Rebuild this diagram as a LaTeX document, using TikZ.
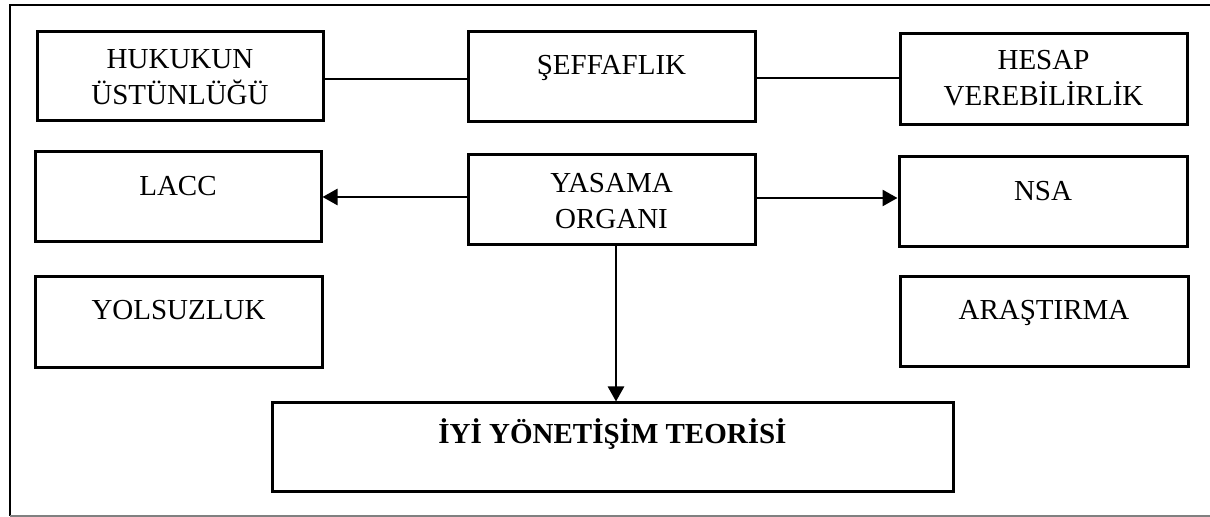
\documentclass[tikz,border=0pt]{standalone}
\usepackage{fontspec}
\setmainfont{Liberation Serif}
\usetikzlibrary{arrows.meta}
\tikzset{
	box/.style 2 args={draw,line width=1.5pt,minimum width=#1,minimum height=#2,inner sep=0pt},
	txt/.style={align=center,anchor=base,inner sep=0pt,font=\fontsize{14.5}{18}\selectfont},
	link/.style={line width=1.3pt},
	arr/.style={line width=1.3pt,-{Triangle[length=7.5pt,width=8pt]}}
}
\begin{document}
\begin{tikzpicture}[x=0.5pt,y=-0.5pt]
					\useasboundingbox (0,0) rectangle (1210,517);
					\draw [line width=1.1pt] (1210,5) -- (10,5) -- (10,516);
					\draw [line width=0.6pt,gray] (10,516) -- (1210,516);

					\node [box={143pt}{44.5pt}] (hukuk) at (180,76.5) {};
					\node [box={143.5pt}{45pt}] (seffaf) at (611.5,77) {};
					\node [box={143.5pt}{45.5pt}] (hesap) at (1043.5,79.5) {};
					\node [box={143pt}{45pt}] (lacc) at (178,197) {};
					\node [box={143.5pt}{45pt}] (yasama) at (611.5,200) {};
					\node [box={144pt}{45pt}] (nsa) at (1043,202) {};
					\node [box={143.5pt}{45.5pt}] (yolsuz) at (178.5,322.5) {};
					\node [box={144pt}{45pt}] (arastirma) at (1044,322) {};
					\node [box={340.5pt}{44.5pt}] (iyi) at (612.5,447.5) {};

					% two-line boxes: base is the last line
					\node [txt] (hukukText) at ([yshift=-37pt]hukuk.north) {HUKUKUN\\ÜSTÜNLÜĞÜ};
					\node [txt] (seffafText) at ([yshift=-22pt]seffaf.north) {ŞEFFAFLIK};
					\node [txt] (hesapText) at ([yshift=-36.5pt]hesap.north) {HESAP\\VEREBİLİRLİK};
					\node [txt] (laccText) at ([yshift=-22.5pt]lacc.north) {LACC};
					\node [txt] (yasamaText) at ([yshift=-37.5pt]yasama.north) {YASAMA\\ORGANI};
					\node [txt] (nsaText) at ([yshift=-22.5pt]nsa.north) {NSA};
					\node [txt] (yolsuzText) at ([yshift=-22pt]yolsuz.north) {YOLSUZLUK};
					\node [txt] (arastirmaText) at ([yshift=-22pt]arastirma.north) {ARAŞTIRMA};
					\node [txt,font=\fontsize{14.5}{18}\selectfont\bfseries] (iyiText) at ([yshift=-21pt]iyi.north) {İYİ YÖNETİŞİM TEORİSİ};

					\draw [link] ([yshift=-1.25pt]hukuk.east) -- ([yshift=-1.25pt]hukuk.east -| seffaf.west);
					\draw [link] ([yshift=-0.5pt]seffaf.east) -- ([yshift=-0.5pt]seffaf.east -| hesap.west);
					\draw [arr] (yasama.west |- lacc.east) -- (lacc.east);
					\draw [arr] ([yshift=2pt]yasama.east |- nsa.west) -- ([yshift=2pt]nsa.west);
					\draw [arr] ([xshift=2.25pt]yasama.south) -- ([xshift=2.25pt]yasama.south |- iyi.north);
				\end{tikzpicture}
\end{document}
